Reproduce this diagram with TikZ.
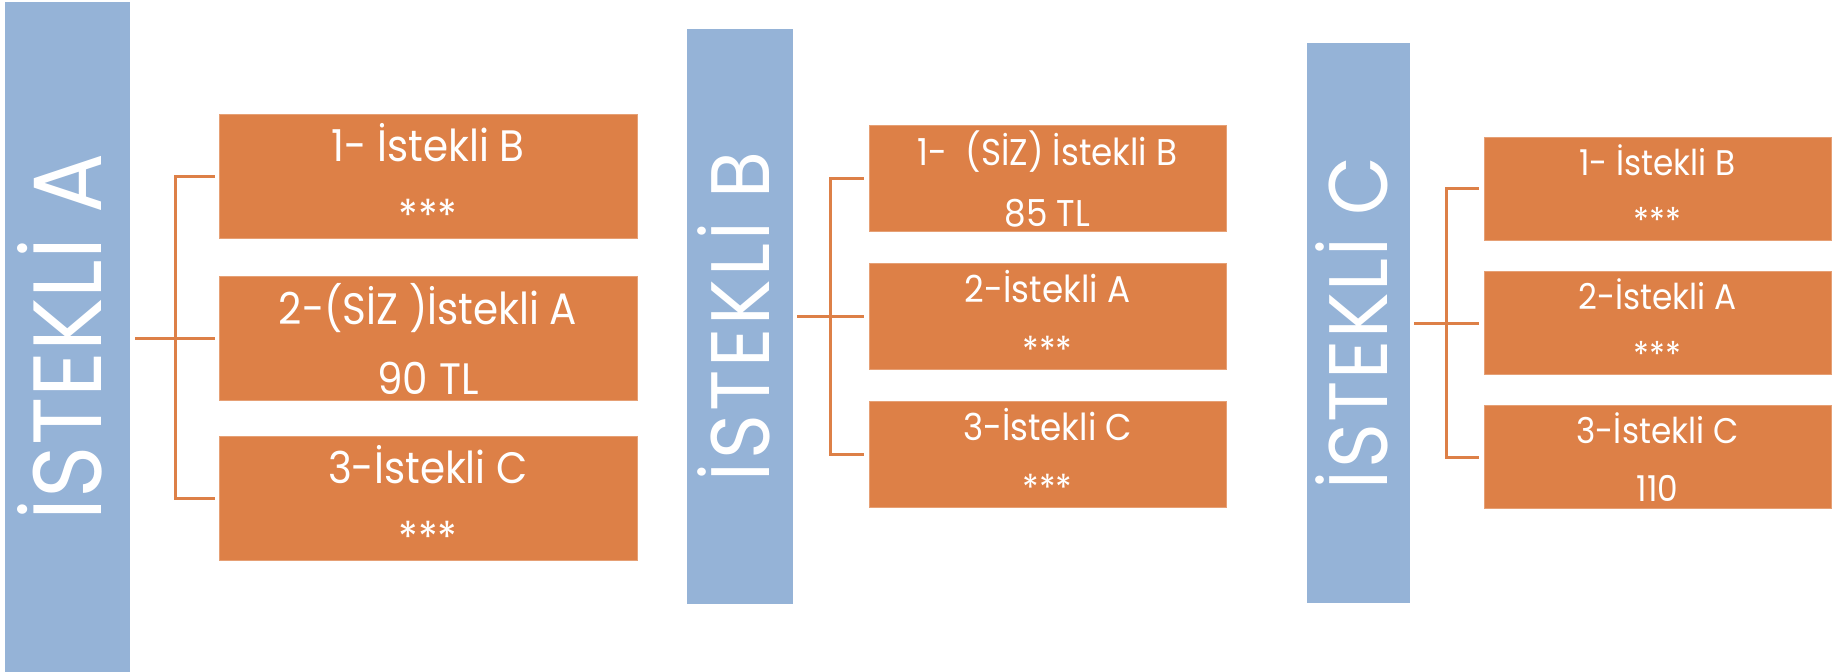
\documentclass[tikz,border=0pt]{standalone}
\usepackage{fontspec}
\setmainfont{Poppins}[FakeStretch=0.92]
\definecolor{barblue}{HTML}{95B3D7}
\definecolor{boxorange}{HTML}{DD8047}
\begin{document}
\begin{tikzpicture}[x=0.5pt,y=-0.5pt,
  bar/.style={fill=barblue, rotate=90, inner sep=0pt, text=white, text depth=0pt},
  obox/.style={fill=boxorange, draw=boxorange!75!white, line width=0.5pt, inner sep=0pt, text=white, align=center},
  conn/.style={draw=boxorange, line width=1.5pt}]
\useasboundingbox (0,0) rectangle (1833,672);
% column A
\node[bar, minimum width=335pt, minimum height=62.5pt, font=\fontsize{48.5}{50}\selectfont, text height=34pt] (barA) at (67.5,337) {İSTEKLİ A};
\begin{scope}[every node/.style={obox, minimum width=209pt, minimum height=62pt, font=\fontsize{22}{35}\selectfont}]
\node (a1) at (428,177) {1- İstekli B\\***};
\node (a2) at (428,338.5) {2-(SİZ )İstekli A\\90 TL};
\node (a3) at (428,499) {3-İstekli C\\***};
\end{scope}
\coordinate (jA) at (175,338.5);
\draw[conn, shorten <=2.5pt, shorten >=2pt] (barA.south |- a2.west) -- (a2.west);
\draw[conn, shorten <=2pt, shorten >=2pt] (a1.west) -| (jA) |- (a3.west);
% column B
\node[bar, minimum width=287.5pt, minimum height=53pt, font=\fontsize{41.5}{43}\selectfont\addfontfeature{LetterSpace=3.5}, text height=29pt] (barB) at (740,316.5) {İSTEKLİ B};
\begin{scope}[every node/.style={obox, minimum width=178.5pt, minimum height=53pt, font=\fontsize{18.6}{30.5}\selectfont}]
\node (b1) at (1047.5,179) {1-\ \ (SİZ) İstekli B\\85 TL};
\node (b2) at (1047.5,316.5) {2-İstekli A\\***};
\node (b3) at (1047.5,454.5) {3-İstekli C\\***};
\end{scope}
\coordinate (jB) at (830,316.5);
\draw[conn, shorten <=2pt, shorten >=2.5pt] (barB.south |- b2.west) -- (b2.west);
\draw[conn, shorten <=2.5pt, shorten >=2.5pt] (b1.west) -| (jB) |- (b3.west);
% column C
\node[bar, minimum width=280pt, minimum height=51.5pt, font=\fontsize{41.5}{43}\selectfont\addfontfeature{LetterSpace=2}, text height=29pt] (barC) at (1358.5,323) {İSTEKLİ C};
\begin{scope}[every node/.style={obox, minimum width=173.5pt, minimum height=51.5pt, font=\fontsize{17.8}{29}\selectfont}]
\node (c1) at (1657.5,189) {1- İstekli B\\***};
\node (c2) at (1657.5,323.5) {2-İstekli A\\***};
\node (c3) at (1657.5,457.5) {3-İstekli C\\110};
\end{scope}
\coordinate (jC) at (1446,323.5);
\draw[conn, shorten <=2pt, shorten >=2.5pt] (barC.south |- c2.west) -- (c2.west);
\draw[conn, shorten <=2.5pt, shorten >=2.5pt] (c1.west) -| (jC) |- (c3.west);
\end{tikzpicture}
\end{document}
